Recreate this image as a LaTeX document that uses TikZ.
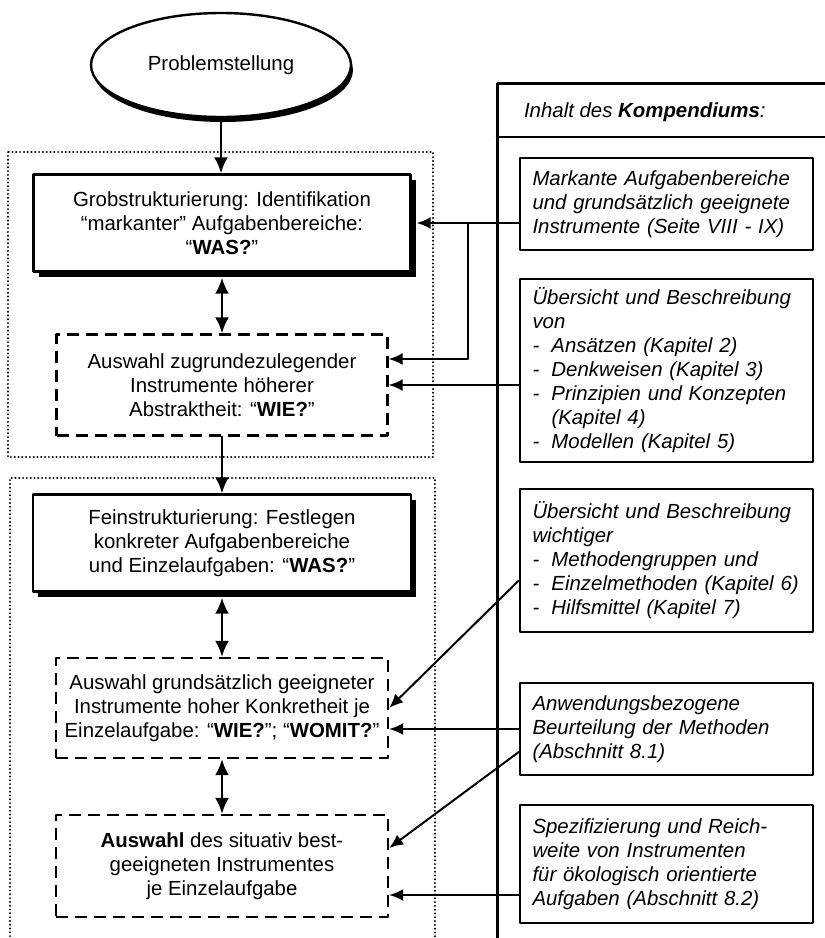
\documentclass[tikz,border=0pt]{standalone}
\usepackage{fontspec}
\setmainfont{Liberation Sans}
\usetikzlibrary{shapes.geometric,shadows,arrows.meta}

\begin{document}
\begin{tikzpicture}[line cap=round,line join=round,x=0.5pt,y=-0.5pt,
  font=\fontsize{10.2}{12}\selectfont,
  shadowbox/.style={draw,line width=1.2pt,align=center,inner sep=0pt,fill=white,
    drop shadow={shadow xshift=2.5pt,shadow yshift=-2.5pt,fill=black,opacity=1}},
  dashbox/.style={draw,line width=1.2pt,line cap=butt,dash pattern=on 6pt off 3.5pt,align=center,inner sep=0pt},
  infobox/.style={draw,line width=1.2pt,align=left,font=\fontsize{10.2}{12}\selectfont\itshape,
    text width=134pt,inner xsep=6.25pt,inner ysep=0pt},
  groupline/.style={line width=1pt,dash pattern=on 0.1pt off 1.8pt},
  flow/.style={line width=1.2pt,-{Latex[length=8pt,width=7pt]}},
  flowboth/.style={line width=1.2pt,{Latex[length=8pt,width=7pt]}-{Latex[length=8pt,width=7pt]}},
  link/.style={line width=1pt,-{Latex[length=7pt,width=6pt]}}]
\useasboundingbox (0,0) rectangle (825,938);
\draw [groupline] (8,152) rectangle (433,457);
\draw [groupline] (10,940) -- (10,478) -- (435,478) -- (435,940);
\draw [line width=1.5pt] (825,83) -- (497,83) -- (497,938);
\draw [line width=1.3pt] (497,137) -- (825,137);
\node [anchor=base west,font=\fontsize{10.2}{12}\selectfont\itshape] (head) at (517,117) {Inhalt des \textbf{Kompendiums}:};

\node [ellipse,draw,line width=1.2pt,minimum width=130pt,minimum height=52pt,fill=white,
  drop shadow={shadow xshift=1pt,shadow yshift=-2.5pt,fill=black,opacity=1}] (prob) at (221,65) {Problemstellung};
\node [shadowbox,minimum width=188.5pt,minimum height=48.5pt] (grob) at (222,223)
  {Grobstrukturierung: Identifikation\\``markanter'' Aufgabenbereiche:\\``\textbf{WAS?}''};
\node [dashbox,minimum width=165.5pt,minimum height=50.5pt] (abstr) at (222,385)
  {Auswahl zugrundezulegender\\Instrumente höherer\\Abstraktheit: ``\textbf{WIE?}''};
\node [shadowbox,minimum width=189pt,minimum height=48.5pt] (fein) at (222,543)
  {Feinstrukturierung: Festlegen\\konkreter Aufgabenbereiche\\und Einzelaufgaben: ``\textbf{WAS?}''};
\node [dashbox,minimum width=166pt,minimum height=50pt] (konkr) at (222,708)
  {Auswahl grundsätzlich geeigneter\\Instrumente hoher Konkretheit je\\Einzelaufgabe: ``\textbf{WIE?}''; ``\textbf{WOMIT?}''};
\node [dashbox,minimum width=166pt,minimum height=51pt] (best) at (222,866)
  {\textbf{Auswahl} des situativ best-\\geeigneten Instrumentes\\je Einzelaufgabe};

\node [infobox,minimum height=46pt] (markant) at (666.5,204)
  {Markante Aufgabenbereiche\\und grundsätzlich geeignete\\Instrumente (Seite VIII - IX)};
\node [infobox,minimum height=91.5pt] (ansatz) at (666.5,370.5)
  {Übersicht und Beschreibung\\von\\\makebox[9.5pt][l]{-}Ansätzen (Kapitel 2)\\\makebox[9.5pt][l]{-}Denkweisen (Kapitel 3)\\\makebox[9.5pt][l]{-}Prinzipien und Konzepten\\\hspace*{9.5pt}(Kapitel 4)\\\makebox[9.5pt][l]{-}Modellen (Kapitel 5)};
\node [infobox,minimum height=71.5pt] (methode) at (666.5,560.5)
  {Übersicht und Beschreibung\\wichtiger\\\makebox[9.5pt][l]{-}Methodengruppen und\\\makebox[9.5pt][l]{-}Einzelmethoden (Kapitel 6)\\\makebox[9.5pt][l]{-}Hilfsmittel (Kapitel 7)};
\node [infobox,minimum height=46pt] (beurt) at (666.5,729)
  {Anwendungsbezogene\\Beurteilung der Methoden\\(Abschnitt 8.1)};
\node [infobox,minimum height=59pt] (reich) at (666.5,864)
  {Spezifizierung und Reich-\\weite von Instrumenten\\für ökologisch orientierte\\Aufgaben (Abschnitt 8.2)};

\draw [flow] (prob.south) -- (prob.south |- grob.north);
\draw [flowboth,shorten <=2.5pt] (grob.south) -- (abstr.north);
\draw [flow] (abstr.south) -- (fein.north);
\draw [flowboth,shorten <=2.5pt] (fein.south) -- (konkr.north);
\draw [flowboth] (konkr.south) -- (best.north);

\coordinate (fork) at (468,223);
\draw [link,shorten >=2.5pt] (markant.west |- grob.east) -- (grob.east);
\draw [link] (fork) |- ([yshift=13pt]abstr.east);
\draw [link] (ansatz.west |- abstr.east) -- (abstr.east);
\draw [link] ([yshift=-10pt]methode.west) -- (konkr.east);
\draw [link] (beurt.west) -- (beurt.west -| konkr.east);
\draw [link] ([yshift=-11.5pt]beurt.west) -- ([yshift=9pt]best.east);
\draw [link] ([yshift=-15.5pt]reich.west) -- ([yshift=-15.5pt]reich.west -| best.east);
\end{tikzpicture}
\end{document}
